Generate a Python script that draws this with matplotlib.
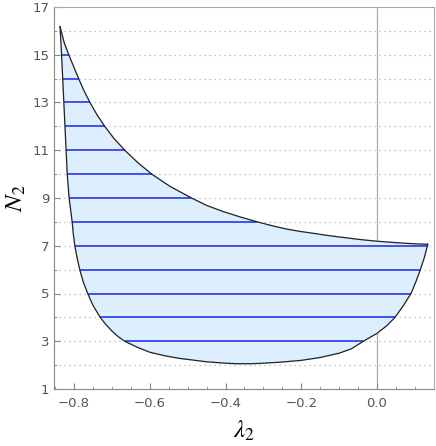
import matplotlib.pyplot as plt
import numpy as np

plt.rcParams["mathtext.fontset"] = "stix"

# outline of the allowed region (lambda2, N2)
upper_x = [-0.837, -0.826, -0.814, -0.801, -0.788, -0.774, -0.758, -0.740,
           -0.719, -0.695, -0.666, -0.633, -0.595, -0.548, -0.490, -0.450,
           -0.406, -0.360, -0.316, -0.275, -0.239, -0.203, -0.168, -0.130,
           -0.090, -0.045, 0.000, 0.050, 0.100, 0.134]
upper_y = [16.18, 15.5, 15.0, 14.5, 14.0, 13.5, 13.0, 12.5,
           12.0, 11.5, 11.0, 10.5, 10.0, 9.5, 9.0, 8.69,
           8.43, 8.20, 8.00, 7.83, 7.70, 7.60, 7.52, 7.43,
           7.35, 7.26, 7.19, 7.13, 7.08, 7.06]

left_x = [-0.837, -0.833, -0.830, -0.827, -0.824, -0.821, -0.818, -0.813,
          -0.809, -0.805, -0.802, -0.798, -0.792, -0.785, -0.776, -0.764,
          -0.750, -0.731, -0.716, -0.700, -0.684, -0.666, -0.632, -0.600,
          -0.560, -0.520, -0.450, -0.400, -0.370, -0.330, -0.300, -0.250,
          -0.200, -0.150, -0.100, -0.068, -0.036, 0.000, 0.025, 0.0476,
          0.070, 0.0898, 0.103, 0.1145, 0.125, 0.134]
left_y = [16.18, 15.0, 14.0, 13.0, 12.0, 11.0, 10.0, 9.0,
          8.5, 8.0, 7.5, 7.0, 6.5, 6.0, 5.5, 5.0,
          4.5, 4.0, 3.7, 3.43, 3.2, 3.0, 2.74, 2.54,
          2.39, 2.28, 2.14, 2.08, 2.06, 2.06, 2.08, 2.13,
          2.20, 2.32, 2.50, 2.68, 3.0, 3.33, 3.64, 4.0,
          4.5, 5.0, 5.5, 6.0, 6.5, 7.06]

# integer N2 levels and their left/right ends
levels = [3, 4, 5, 6, 7, 8, 9, 10, 11, 12, 13, 14, 15]
level_lo = [-0.666, -0.731, -0.764, -0.785, -0.798, -0.805, -0.813, -0.818,
            -0.821, -0.824, -0.827, -0.830, -0.833]
level_hi = [-0.036, 0.0476, 0.0898, 0.1145, 0.134, -0.316, -0.490, -0.595,
            -0.666, -0.719, -0.758, -0.788, -0.814]

fig = plt.figure(figsize=(4.36, 4.46), dpi=100)
ax = fig.add_axes([54 / 436, 57 / 446, 380 / 436, 382 / 446])

# dotted grid at every integer
for g in range(2, 17):
    ax.axhline(g, color="#b0b0b0", lw=0.9, ls=(0, (1, 3)), zorder=0)
ax.axvline(0.0, color="#aaaaaa", lw=0.9, zorder=0)

# region
bx = upper_x + left_x[::-1]
by = upper_y + left_y[::-1]
ax.fill(bx, by, color="#ddeeff", zorder=1)
ax.hlines(levels, level_lo, level_hi, color="#3344ee", lw=1.3, zorder=2)
ax.plot(upper_x, upper_y, color="#222222", lw=0.9, zorder=3)
ax.plot(left_x, left_y, color="#222222", lw=0.9, zorder=3)

ax.set_xlim(-0.853, 0.1506)
ax.set_ylim(1, 17)

ax.set_xticks(np.arange(-0.8, 0.01, 0.2))
ax.set_xticks(np.arange(-0.85, 0.151, 0.05), minor=True)
ax.set_xticklabels(["\u22120.8", "\u22120.6", "\u22120.4", "\u22120.2", "0.0"])
ax.set_yticks(range(1, 18, 2))
ax.set_yticks(range(2, 17, 2), minor=True)

ax.tick_params(which="both", direction="in", color="#888888",
               labelcolor="#555555", labelsize=9.5, top=False, right=False)
ax.tick_params(which="major", length=4)
ax.tick_params(which="minor", length=2)
ax.tick_params(axis="x", pad=6)

for side in ["left", "bottom"]:
    ax.spines[side].set_color("#888888")
for side in ["top", "right"]:
    ax.spines[side].set_color("#aaaaaa")

ax.set_xlabel(r"$\lambda_2$", fontsize=18, labelpad=6)
ax.set_ylabel(r"$N_2$", fontsize=18, labelpad=3)

fig.savefig("out.png", dpi=100)
